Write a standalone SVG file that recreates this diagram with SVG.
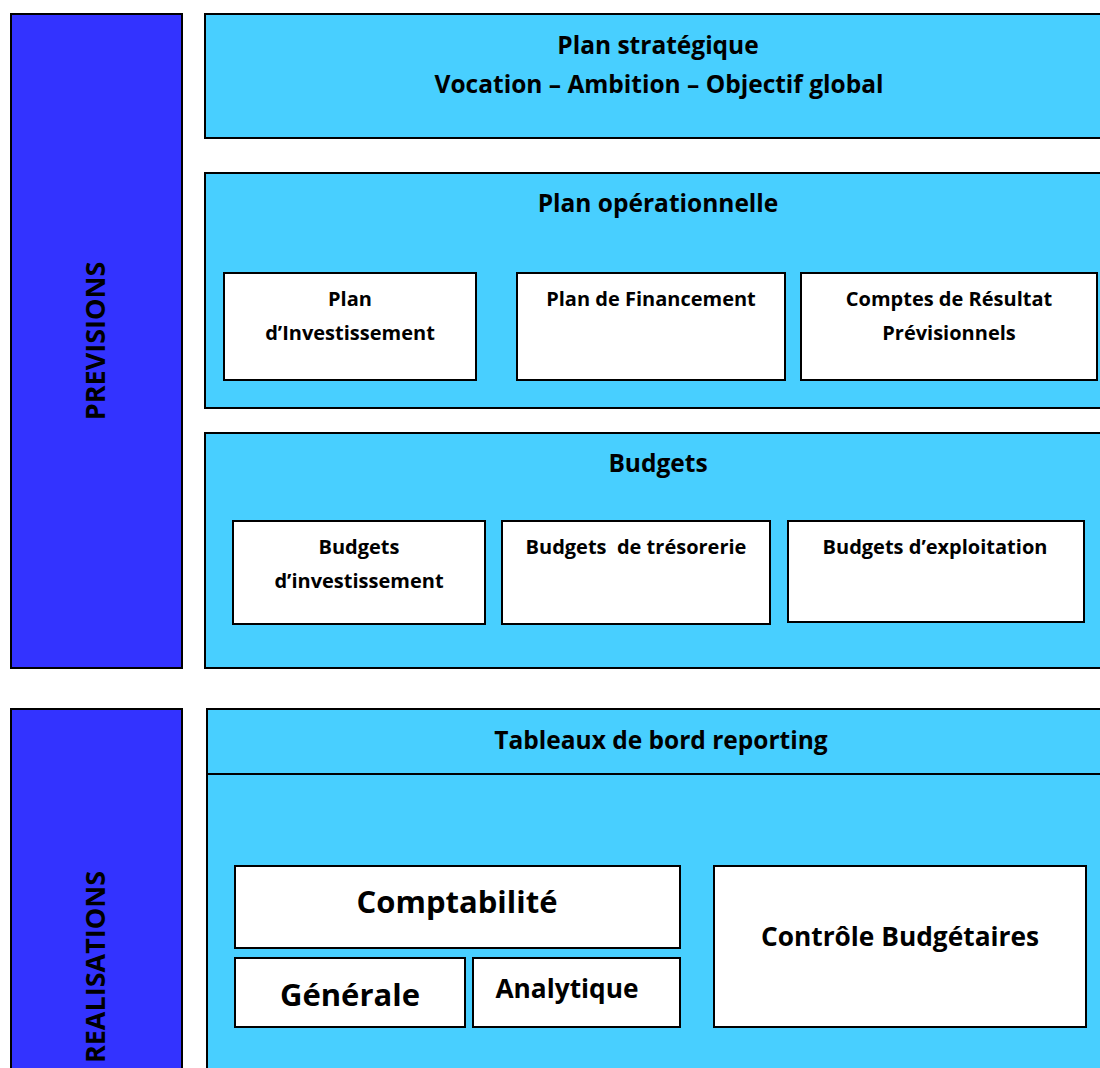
<svg xmlns="http://www.w3.org/2000/svg" width="1100" height="1068" viewBox="0 0 1100 1068">
<style>
.side{fill:#3333FF;stroke:#000;stroke-width:2}
.panel{fill:#48CFFF;stroke:#000;stroke-width:2}
.box{fill:#FFFFFF;stroke:#000;stroke-width:2}
text{font-family:"Open Sans","Noto Sans","Liberation Sans",sans-serif;font-weight:bold;fill:#000;text-anchor:middle}
.t22{font-size:24.5px}
.side-t{font-size:27px}
.t18{font-size:20px}
.big{font-size:31px}
.mid{font-size:26.3px}
</style>
<g id="previsions">
<rect class="side" x="11" y="14" width="171" height="654"/>
<text class="side-t" transform="translate(105,341) rotate(-90)">PREVISIONS</text>
</g>
<g id="realisations">
<rect class="side" x="11" y="709" width="171" height="370"/>
<text class="side-t" transform="translate(105,967) rotate(-90)">REALISATIONS</text>
</g>
<g id="plan-strategique">
<rect class="panel" x="205" y="14" width="905" height="124"/>
<text class="t22" x="658" y="54">Plan stratégique</text>
<text class="t22" x="659" y="93">Vocation – Ambition – Objectif global</text>
</g>
<g id="plan-operationnelle">
<rect class="panel" x="205" y="173" width="905" height="235"/>
<text class="t22" x="658" y="212">Plan opérationnelle</text>
</g>
<g id="plan-investissement">
<rect class="box" x="224" y="273" width="252" height="107"/>
<text class="t18" x="350" y="306">Plan</text>
<text class="t18" x="350" y="340">d’Investissement</text>
</g>
<g id="plan-financement">
<rect class="box" x="517" y="273" width="268" height="107"/>
<text class="t18" x="651" y="306">Plan de Financement</text>
</g>
<g id="comptes-resultat">
<rect class="box" x="801" y="273" width="296" height="107"/>
<text class="t18" x="949" y="306">Comptes de Résultat</text>
<text class="t18" x="949" y="340">Prévisionnels</text>
</g>
<g id="budgets">
<rect class="panel" x="205" y="433" width="905" height="235"/>
<text class="t22" x="658" y="472">Budgets</text>
</g>
<g id="budgets-investissement">
<rect class="box" x="233" y="521" width="252" height="103"/>
<text class="t18" x="359" y="554">Budgets</text>
<text class="t18" x="359" y="588">d’investissement</text>
</g>
<g id="budgets-tresorerie">
<rect class="box" x="502" y="521" width="268" height="103"/>
<text class="t18" x="636" y="554" xml:space="preserve">Budgets  de trésorerie</text>
</g>
<g id="budgets-exploitation">
<rect class="box" x="788" y="521" width="296" height="101"/>
<text class="t18" x="935" y="554">Budgets d’exploitation</text>
</g>
<g id="tableaux-de-bord">
<rect class="panel" x="207" y="709" width="905" height="370"/>
<line x1="207" y1="774" x2="1110" y2="774" stroke="#000" stroke-width="2"/>
<text class="t22" x="661" y="749">Tableaux de bord reporting</text>
</g>
<g id="comptabilite">
<rect class="box" x="235" y="866" width="445" height="82"/>
<text class="big" x="457" y="913">Comptabilité</text>
</g>
<g id="generale">
<rect class="box" x="235" y="958" width="230" height="69"/>
<text class="big" x="350" y="1006">Générale</text>
</g>
<g id="analytique">
<rect class="box" x="473" y="958" width="207" height="69"/>
<text class="mid" x="567" y="998">Analytique</text>
</g>
<g id="controle-budgetaires">
<rect class="box" x="714" y="866" width="372" height="161"/>
<text class="mid" x="900" y="946">Contrôle Budgétaires</text>
</g>
<g id="connectors"></g>
</svg>
